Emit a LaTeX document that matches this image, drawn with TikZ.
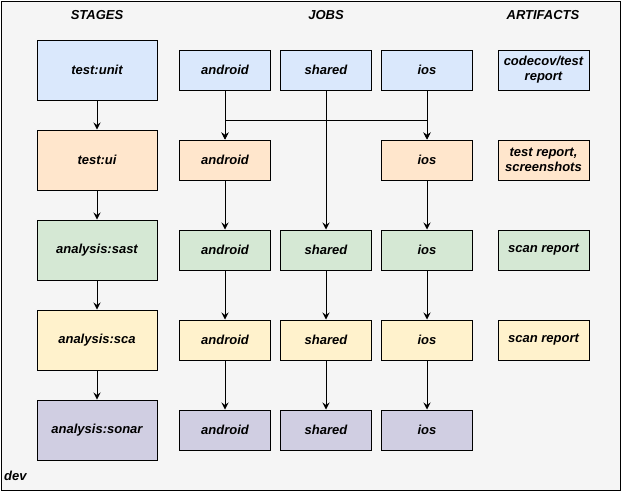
\documentclass[tikz,border=0pt]{standalone}
\usepackage{fontspec}
\setmainfont{Liberation Sans}
\usetikzlibrary{arrows.meta,calc}
\begin{document}
\begin{tikzpicture}[x=1pt,y=-1pt,
  txt/.style={font=\fontsize{13}{15}\selectfont\bfseries\itshape, align=center, inner sep=0pt},
  box/.style={txt, draw=black, line width=1pt},
  stagebox/.style={box, minimum width=120pt, minimum height=60pt},
  jobbox/.style={box, minimum width=91pt, minimum height=40pt},
  arr/.style={-{Stealth[length=7pt,width=7pt,inset=2.5pt]}, line width=1pt},
  ln/.style={line width=1pt}]
\definecolor{cblue}{HTML}{DAE8FC}
\definecolor{corange}{HTML}{FFE6CC}
\definecolor{cgreen}{HTML}{D5E8D4}
\definecolor{cyellow}{HTML}{FFF2CC}
\definecolor{cpurple}{HTML}{D0CEE2}
\definecolor{cbg}{HTML}{F5F5F5}
\useasboundingbox (0,0) rectangle (621,491);
\draw[fill=cbg, line width=1pt] (1,1) rectangle (620,490);

\node[txt] (hs) at (97,15) {STAGES};
\node[txt] (hj) at (326,15) {JOBS};
\node[txt] (ha) at (543,15) {ARTIFACTS};
\node[txt, anchor=west] (dev) at (4,476) {dev};

% stages
\node[stagebox, fill=cblue] (s1) at (97,70) {test:unit};
\node[stagebox, fill=corange] (s2) at (97,160) {test:ui};
\node[stagebox, fill=cgreen] (s3) at (97,250) {analysis:sast};
\node[stagebox, fill=cyellow] (s4) at (97,340) {analysis:sca};
\node[stagebox, fill=cpurple] (s5) at (97,430) {analysis:sonar};

% jobs
\node[jobbox, fill=cblue] (a1) at (225,70) {android};
\node[jobbox, fill=cblue] (h1) at (326,70) {shared};
\node[jobbox, fill=cblue] (i1) at (427,70) {ios};
\node[jobbox, fill=corange] (a2) at (225,160) {android};
\node[jobbox, fill=corange] (i2) at (427,160) {ios};
\node[jobbox, fill=cgreen] (a3) at (225,250) {android};
\node[jobbox, fill=cgreen] (h3) at (326,250) {shared};
\node[jobbox, fill=cgreen] (i3) at (427,250) {ios};
\node[jobbox, fill=cyellow] (a4) at (225,340) {android};
\node[jobbox, fill=cyellow] (h4) at (326,340) {shared};
\node[jobbox, fill=cyellow] (i4) at (427,340) {ios};
\node[jobbox, fill=cpurple] (a5) at (225,430) {android};
\node[jobbox, fill=cpurple] (h5) at (326,430) {shared};
\node[jobbox, fill=cpurple] (i5) at (427,430) {ios};

% artifacts
\node[jobbox, fill=cblue] (r1) at (543.5,70) {codecov/test\\report};
\node[jobbox, fill=corange] (r2) at (543.5,160) {test report,\\screenshots};
\node[jobbox, fill=cgreen] (r3) at (543.5,250) {scan report};
\node[jobbox, fill=cyellow] (r4) at (543.5,340) {scan report};

% stage arrows
\draw[arr] (s1) -- (s2);
\draw[arr] (s2) -- (s3);
\draw[arr] (s3) -- (s4);
\draw[arr] (s4) -- (s5);

% job connectors
\draw[arr] (a1) -- (a2);
\draw[arr] (i1) -- (i2);
\draw[arr] (a1.south) -- ++(0,30) -| (i2.north);
\draw[arr] (i1.south) -- ++(0,30) -| (a2.north);
\draw[arr] (h1) -- (h3);
\draw[arr] (a2) -- (a3);
\draw[arr] (i2) -- (i3);
\draw[arr] (a3) -- (a4);
\draw[arr] (h3) -- (h4);
\draw[arr] (i3) -- (i4);
\draw[arr] (a4) -- (a5);
\draw[arr] (h4) -- (h5);
\draw[arr] (i4) -- (i5);
\end{tikzpicture}
\end{document}
